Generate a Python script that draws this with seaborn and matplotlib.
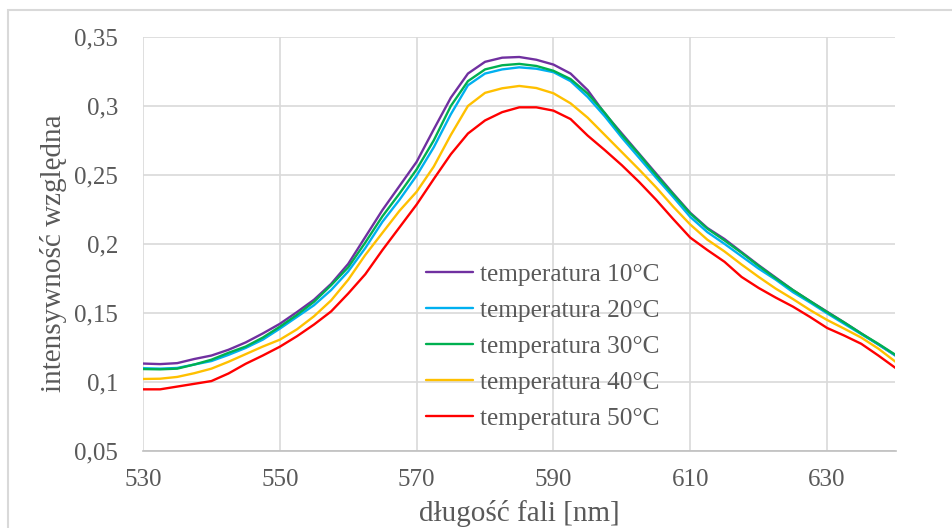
import matplotlib
matplotlib.use("Agg")
import matplotlib.pyplot as plt
from matplotlib.patches import Rectangle
import seaborn as sns
import pandas as pd

# Emission spectra, relative intensity vs wavelength (nm), one series per temperature
wavelength = [530, 532.5, 535, 537.5, 540, 542.5, 545, 547.5, 550, 552.5,
              555, 557.5, 560, 562.5, 565, 567.5, 570, 572.5, 575, 577.5,
              580, 582.5, 585, 587.5, 590, 592.5, 595, 597.5, 600, 602.5,
              605, 607.5, 610, 612.5, 615, 617.5, 620, 622.5, 625, 627.5,
              630, 632.5, 635, 637.5, 640]

t10 = [0.1132, 0.1128, 0.1135, 0.1165, 0.1190, 0.1232, 0.1285, 0.1350, 0.1420, 0.1505,
       0.1595, 0.1710, 0.1855, 0.2050, 0.2245, 0.2420, 0.2595, 0.2830, 0.3060, 0.3235,
       0.3320, 0.3350, 0.3355, 0.3335, 0.3300, 0.3235, 0.3115, 0.2945, 0.2800, 0.2655,
       0.2510, 0.2365, 0.2225, 0.2115, 0.2035, 0.1940, 0.1845, 0.1755, 0.1665, 0.1585,
       0.1508, 0.1430, 0.1350, 0.1270, 0.1190]

t20 = [0.1098, 0.1095, 0.1100, 0.1125, 0.1150, 0.1195, 0.1245, 0.1305, 0.1385, 0.1470,
       0.1555, 0.1665, 0.1800, 0.1970, 0.2160, 0.2320, 0.2495, 0.2700, 0.2940, 0.3150,
       0.3235, 0.3265, 0.3280, 0.3270, 0.3245, 0.3180, 0.3065, 0.2925, 0.2770, 0.2625,
       0.2480, 0.2340, 0.2195, 0.2085, 0.2000, 0.1910, 0.1820, 0.1740, 0.1650, 0.1575,
       0.1496, 0.1420, 0.1345, 0.1270, 0.1190]

t30 = [0.1092, 0.1090, 0.1095, 0.1125, 0.1160, 0.1210, 0.1255, 0.1320, 0.1399, 0.1485,
       0.1580, 0.1700, 0.1830, 0.2010, 0.2200, 0.2365, 0.2540, 0.2750, 0.3000, 0.3180,
       0.3265, 0.3295, 0.3305, 0.3290, 0.3255, 0.3195, 0.3090, 0.2950, 0.2790, 0.2650,
       0.2500, 0.2360, 0.2220, 0.2110, 0.2025, 0.1935, 0.1840, 0.1750, 0.1665, 0.1585,
       0.1505, 0.1430, 0.1350, 0.1275, 0.1195]

t40 = [0.1020, 0.1022, 0.1035, 0.1062, 0.1095, 0.1145, 0.1200, 0.1255, 0.1305, 0.1380,
       0.1475, 0.1590, 0.1740, 0.1920, 0.2080, 0.2240, 0.2378, 0.2560, 0.2790, 0.3000,
       0.3095, 0.3128, 0.3145, 0.3130, 0.3092, 0.3019, 0.2915, 0.2790, 0.2665, 0.2540,
       0.2410, 0.2270, 0.2140, 0.2030, 0.1945, 0.1850, 0.1760, 0.1675, 0.1600, 0.1520,
       0.1448, 0.1385, 0.1320, 0.1240, 0.1145]

t50 = [0.0945, 0.0945, 0.0965, 0.0985, 0.1005, 0.1060, 0.1130, 0.1190, 0.1254, 0.1330,
       0.1415, 0.1510, 0.1640, 0.1780, 0.1955, 0.2120, 0.2285, 0.2470, 0.2650, 0.2800,
       0.2895, 0.2955, 0.2990, 0.2990, 0.2966, 0.2905, 0.2785, 0.2680, 0.2570, 0.2450,
       0.2320, 0.2180, 0.2045, 0.1955, 0.1870, 0.1760, 0.1680, 0.1610, 0.1545, 0.1470,
       0.1390, 0.1335, 0.1275, 0.1190, 0.1100]

series_names = ["temperatura 10°C", "temperatura 20°C", "temperatura 30°C",
                "temperatura 40°C", "temperatura 50°C"]
series_colors = ["#7030A0", "#00B0F0", "#00B050", "#FFC000", "#FF0000"]

x_ticks = [530, 550, 570, 590, 610, 630]
y_ticks = [0.05, 0.1, 0.15, 0.2, 0.25, 0.3, 0.35]
y_tick_labels = ["0,05", "0,1", "0,15", "0,2", "0,25", "0,3", "0,35"]

frames = []
for name, vals in zip(series_names, [t10, t20, t30, t40, t50]):
    frames.append(pd.DataFrame({"wavelength": wavelength, "intensity": vals, "series": name}))
df = pd.concat(frames, ignore_index=True)

sns.set_style("white")
plt.rcParams["font.family"] = ["Liberation Serif", "DejaVu Serif"]
text_color = "#595959"
grid_color = "#D9D9D9"

fig = plt.figure(figsize=(9.53, 5.28), dpi=100)
ax = fig.add_axes([143 / 953, 1 - 450.7 / 528, (895.5 - 143) / 953, (450.7 - 37) / 528])

sns.lineplot(data=df, x="wavelength", y="intensity", hue="series",
             hue_order=series_names, palette=series_colors,
             linewidth=1.7, ax=ax, legend=True)

ax.set_xlim(530, 640)
ax.set_ylim(0.05, 0.35)
ax.set_xticks(x_ticks)
ax.set_xticklabels([str(t) for t in x_ticks])
ax.set_yticks(y_ticks)
ax.set_yticklabels(y_tick_labels)
ax.tick_params(axis="both", length=0, labelsize=18, labelcolor=text_color)
ax.tick_params(axis="y", pad=18)
ax.tick_params(axis="x", pad=13)

ax.grid(True, color=grid_color, linewidth=1.2)
ax.set_axisbelow(True)
for side in ["top", "right", "left"]:
    ax.spines[side].set_visible(False)
ax.spines["bottom"].set_color("#BFBFBF")
ax.spines["bottom"].set_linewidth(1.2)

ax.set_xlabel("długość fali [nm]", fontsize=21, color=text_color)
ax.set_ylabel("intensywność względna", fontsize=21, color=text_color)
ax.xaxis.set_label_coords(0.5, -0.118)
ax.yaxis.set_label_coords(-0.101, 0.478)

leg = ax.legend(loc="upper left", bbox_to_anchor=(426 / 953, 1 - 263 / 528),
                bbox_transform=fig.transFigure, frameon=False, fontsize=18.3,
                handlelength=1.85, handletextpad=0.27, labelspacing=0.52,
                borderpad=0, borderaxespad=0)
for txt in leg.get_texts():
    txt.set_color(text_color)
for line in leg.get_lines():
    line.set_linewidth(1.7)

# outer chart-area border (light gray)
fig.patches.append(Rectangle((8 / 953, -0.2), 1.2, 1.2 - 10 / 528, transform=fig.transFigure,
                             fill=False, edgecolor=grid_color, linewidth=1.5))

fig.savefig("out.png", dpi=100)
